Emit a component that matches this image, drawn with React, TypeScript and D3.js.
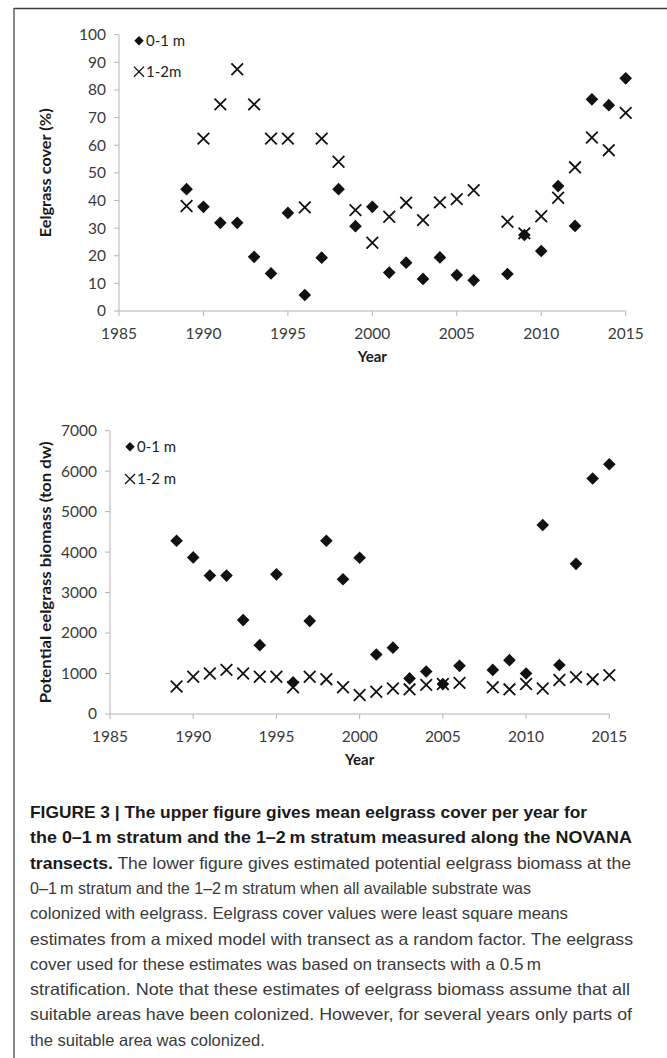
import React from "react";
import * as d3 from "d3";

// years with data (2007 has no survey)
const years = [
  1989, 1990, 1991, 1992, 1993, 1994, 1995, 1996, 1997, 1998, 1999, 2000, 2001,
  2002, 2003, 2004, 2005, 2006, 2008, 2009, 2010, 2011, 2012, 2013, 2014, 2015,
];

// eelgrass cover (%)
const cover01 = [
  44.1, 37.7, 31.9, 31.9, 19.6, 13.6, 35.5, 5.8, 19.3, 44.1, 30.7, 37.7, 13.9,
  17.5, 11.6, 19.4, 13.0, 11.1, 13.4, 27.5, 21.7, 45.2, 30.8, 76.6, 74.5, 84.2,
];
const cover12 = [
  38.0, 62.4, 74.8, 87.5, 74.8, 62.4, 62.4, 37.5, 62.4, 54.0, 36.5, 24.7, 34.1,
  39.2, 32.9, 39.3, 40.5, 43.7, 32.3, 28.1, 34.3, 41.0, 52.0, 62.8, 58.2, 71.7,
];

// potential eelgrass biomass (ton dw)
const biomass01 = [
  4280, 3870, 3420, 3420, 2320, 1700, 3450, 780, 2300, 4280, 3330, 3860, 1470,
  1640, 880, 1050, 740, 1190, 1090, 1330, 1000, 4670, 1210, 3710, 5820, 6170,
];
const biomass12 = [
  680, 920, 1000, 1090, 1000, 920, 920, 660, 920, 860, 660, 470, 550, 630, 610,
  720, 740, 770, 660, 610, 740, 630, 840, 910, 860, 960,
];

const xTicks = [1985, 1990, 1995, 2000, 2005, 2010, 2015];
const coverTicks = [0, 10, 20, 30, 40, 50, 60, 70, 80, 90, 100];
const biomassTicks = [0, 1000, 2000, 3000, 4000, 5000, 6000, 7000];

// caption lines: [bold part, regular part, right end]
const caption = [
  ["FIGURE 3 | The upper figure gives mean eelgrass cover per year for", "", 587],
  ["the 0\u20131\u2009m stratum and the 1\u20132\u2009m stratum measured along the NOVANA", "", 632],
  ["transects.", " The lower figure gives estimated potential eelgrass biomass at the", 631],
  ["", "0\u20131\u2009m stratum and the 1\u20132\u2009m stratum when all available substrate was", 531],
  ["", "colonized with eelgrass. Eelgrass cover values were least square means", 568],
  ["", "estimates from a mixed model with transect as a random factor. The eelgrass", 633],
  ["", "cover used for these estimates was based on transects with a 0.5\u2009m", 541],
  ["", "stratification. Note that these estimates of eelgrass biomass assume that all", 630],
  ["", "suitable areas have been colonized. However, for several years only parts of", 632],
  ["", "the suitable area was colonized.", 0],
];

const chartFont = "Lato, 'Open Sans', sans-serif";
const diamond = d3.symbol(d3.symbolSquare, 80)();
const diamondSmall = d3.symbol(d3.symbolSquare, 44)();
const cross = d3.symbol(d3.symbolX, 90)();
const crossSmall = d3.symbol(d3.symbolX, 68)();

function Chart({ left, right, top, bottom, ticks, s1, s2, yTitle, yTitleX, yTitleLen, labels, legendY }) {
  const x = d3.scaleLinear().domain([1985, 2015]).range([left, right]);
  const y = d3.scaleLinear().domain([0, ticks[ticks.length - 1]]).range([bottom, top]);
  const axisColor = "#b4b4b4";
  return (
    <g fontFamily={chartFont}>
      {/* y axis */}
      <line x1={left} x2={left} y1={y(0)} y2={top} stroke={axisColor} />
      {ticks.map((t) => (
        <g key={t}>
          <line x1={left - 5} x2={left} y1={y(t)} y2={y(t)} stroke={axisColor} />
          <text x={left - 13} y={y(t)} dy="0.35em" textAnchor="end" fontSize={15.5} fill="#3a3a3a">
            {t}
          </text>
        </g>
      ))}
      {/* x axis */}
      <line x1={left} x2={right} y1={bottom} y2={bottom} stroke={axisColor} />
      {xTicks.map((t) => (
        <g key={t}>
          <line x1={x(t)} x2={x(t)} y1={bottom} y2={bottom + 5} stroke={axisColor} />
          <text x={x(t)} y={bottom + 27.5} textAnchor="middle" fontSize={15.5} fill="#3a3a3a">
            {t}
          </text>
        </g>
      ))}
      <text x={(left + right) / 2} y={bottom + 51} textAnchor="middle" fontSize={15} fontWeight="bold" fill="#1a1a1a">
        Year
      </text>
      <text
        transform={`translate(${yTitleX},${(top + bottom) / 2}) rotate(-90)`}
        textAnchor="middle"
        dy="0.35em"
        fontSize={15}
        fontWeight="bold"
        fill="#1a1a1a"
        textLength={yTitleLen}
        lengthAdjust="spacingAndGlyphs"
      >
        {yTitle}
      </text>

      {/* series */}
      {years.map((yr, i) => (
        <path key={"c" + yr} d={cross} transform={`translate(${x(yr)},${y(s2[i])})`} fill="none" stroke="#111" strokeWidth={1.8} />
      ))}
      {years.map((yr, i) => (
        <path key={"d" + yr} d={diamond} transform={`translate(${x(yr)},${y(s1[i])}) rotate(45)`} fill="#111" />
      ))}

      {/* legend */}
      <path d={diamondSmall} transform={`translate(${left + 20},${legendY[0]}) rotate(45)`} fill="#111" />
      <text x={left + 27} y={legendY[0]} dy="0.35em" fontSize={15} fill="#222">
        {labels[0]}
      </text>
      <path d={crossSmall} transform={`translate(${left + 20},${legendY[1]})`} fill="none" stroke="#111" strokeWidth={1.3} />
      <text x={left + 27} y={legendY[1]} dy="0.35em" fontSize={15} fill="#222">
        {labels[1]}
      </text>
    </g>
  );
}

export default function App() {
  return (
    <svg width={667} height={1058} style={{ position: "absolute", left: 0, top: 0, display: "block", background: "#fff" }}>
      <rect width={667} height={1058} fill="#fff" />
      {/* frame */}
      <line x1={14} x2={667} y1={8.5} y2={8.5} stroke="#3c3c3c" strokeWidth={1.6} />
      <line x1={14} x2={14} y1={8} y2={1058} stroke="#555" strokeWidth={1.4} />

      <Chart
        left={119}
        right={625.7}
        top={34.7}
        bottom={311}
        ticks={coverTicks}
        s1={cover01}
        s2={cover12}
        yTitle="Eelgrass cover (%)"
        yTitleX={46}
        yTitleLen={129}
        labels={["0-1 m", "1-2m"]}
        legendY={[40.7, 71.7]}
      />
      <Chart
        left={110}
        right={609.3}
        top={430.7}
        bottom={714}
        ticks={biomassTicks}
        s1={biomass01}
        s2={biomass12}
        yTitle="Potential eelgrass biomass (ton dw)"
        yTitleX={45.5}
        yTitleLen={262}
        labels={["0-1 m", "1-2 m"]}
        legendY={[446.7, 479]}
      />

      {/* caption */}
      <g fontFamily="'Liberation Sans', Arial, sans-serif" fontSize={16.5}>
        {caption.map(([b, r, end], i) => (
          <text
            key={i}
            x={30}
            y={818 + i * 25.3}
            textLength={end ? (end as number) - 30 : undefined}
            lengthAdjust={end ? "spacingAndGlyphs" : undefined}
          >
            {b ? (
              <tspan fontWeight="bold" fill="#1a1a1a">
                {b}
              </tspan>
            ) : null}
            {r ? <tspan fill="#3a3a3a">{r}</tspan> : null}
          </text>
        ))}
      </g>
    </svg>
  );
}
